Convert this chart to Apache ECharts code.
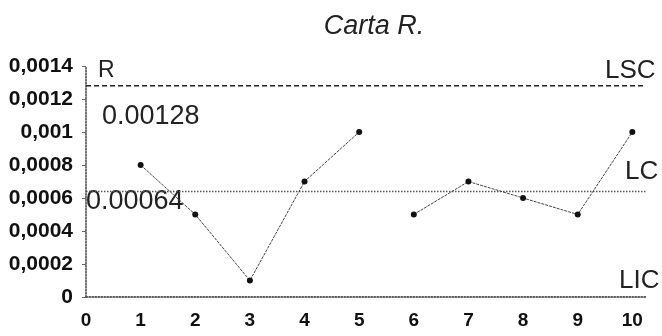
<!DOCTYPE html>
<html><head><meta charset="utf-8">
<script src="https://cdn.jsdelivr.net/npm/echarts@6/dist/echarts.min.js"></script>
<style>html,body{margin:0;padding:0;background:#fff}#c{width:662px;height:336px}</style>
</head><body><div id="c"></div>
<script>
const samples = [1, 2, 3, 4, 5, 6, 7, 8, 9, 10];
const ranges = [0.0008, 0.0005, 0.0001, 0.0007, 0.0010, 0.0005, 0.0007, 0.0006, 0.0005, 0.0010];
const breakAfter = 5;
const LSC = 0.00128, LC = 0.00064, LIC = 0;
const lineXStart = 0, lineXEnd = 10.25;
const yTickLabels = ['0', '0,0002', '0,0004', '0,0006', '0,0008', '0,001', '0,0012', '0,0014'];
const xTickLabels = ['0','1','2','3','4','5','6','7','8','9','10'];

const rData = [];
samples.forEach((s, i) => {
  rData.push([s, ranges[i]]);
  if (s === breakAfter) rData.push([s + 0.5, null]);
});
const hline = v => [[lineXStart, v], [lineXEnd, v]];

const chart = echarts.init(document.getElementById('c'));
const F = 'Liberation Sans, Arial';
const lblFont = {fontFamily: F, fontWeight: 'bold', fontSize: 21, color: '#111'};
chart.setOption({
  animation: false,
  title: {text: 'Carta R.', left: 369, top: 8, textAlign: 'center',
    textStyle: {fontFamily: F, fontStyle: 'italic', fontWeight: 'normal', fontSize: 27, color: '#222'}},
  grid: {left: 86, right: 16, top: 66, bottom: 39},
  xAxis: {type: 'value', min: 0, max: lineXEnd, interval: 1,
    axisLine: {lineStyle: {color: '#444', type: 'dotted', width: 1.5}},
    axisTick: {show: false}, splitLine: {show: false},
    axisLabel: Object.assign({margin: 14, formatter: (v) => Number.isInteger(v) ? xTickLabels[v] : ''}, lblFont, {fontSize: 19})},
  yAxis: {type: 'value', min: 0, max: 0.0014, interval: 0.0002,
    axisLine: {show: true, lineStyle: {color: '#444', type: 'dotted', width: 1.5}},
    axisTick: {show: true, length: 4, lineStyle: {color: '#666'}}, splitLine: {show: false},
    axisLabel: Object.assign({margin: 13, formatter: (v, i) => yTickLabels[Math.round(v / 0.0002)]}, lblFont)},
  series: [
    {type: 'line', data: hline(LSC), symbol: 'none', silent: true,
      lineStyle: {color: '#222', width: 1.5, type: [5, 3]}},
    {type: 'line', data: hline(LC), symbol: 'none', silent: true,
      lineStyle: {color: '#555', width: 1.5, type: 'dotted'}},
    {type: 'line', data: hline(LIC), symbol: 'none', silent: true,
      lineStyle: {color: '#555', width: 1.5, type: 'dotted'}},
    {type: 'line', data: rData, connectNulls: false, symbol: 'circle', symbolSize: 6,
      itemStyle: {color: '#111'}, lineStyle: {color: '#444', width: 1, type: [3, 1]}}
  ],
  graphic: [
    {type: 'text', left: 98, top: 59, style: {text: 'R', font: '23px ' + F, fill: '#222'}},
    {type: 'text', left: 605, top: 58, style: {text: 'LSC', font: '26px ' + F, fill: '#222'}},
    {type: 'text', left: 102, top: 103, style: {text: '0.00128', font: '27px ' + F, fill: '#222'}},
    {type: 'text', left: 625, top: 159, style: {text: 'LC', font: '26px ' + F, fill: '#222'}},
    {type: 'text', left: 86, top: 188, style: {text: '0.00064', font: '27px ' + F, fill: '#222'}},
    {type: 'text', left: 619, top: 268, style: {text: 'LIC', font: '26px ' + F, fill: '#222'}}
  ]
});
</script></body></html>
